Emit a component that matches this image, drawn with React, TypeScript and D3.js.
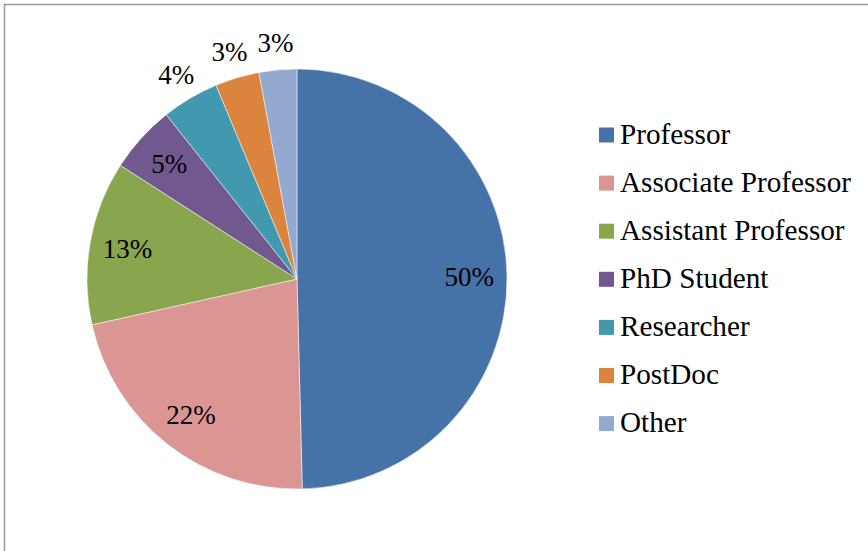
import React from "react";
import * as d3 from "d3";

const categories = ["Professor", "Associate Professor", "Assistant Professor", "PhD Student", "Researcher", "PostDoc", "Other"];
const values = [49.6, 21.9, 12.6, 5.2, 4.4, 3.4, 2.9];
const colors = ["#4572A7", "#DB9694", "#89A54E", "#71588F", "#4198AF", "#DB843D", "#93A9CF"];
const outsideLabel = [false, false, false, false, true, true, true];

const W = 868;
const H = 551;
const cx = 297;
const cy = 279;
const R = 210;
const font = "'Liberation Serif', 'Times New Roman', Times, serif";

export default function App() {
  const pie = d3.pie<number>().sort(null).value((d) => d)(values);
  const arc = d3.arc<d3.PieArcDatum<number>>().innerRadius(0).outerRadius(R);
  const inLabel = d3.arc<d3.PieArcDatum<number>>().innerRadius(R * 0.82).outerRadius(R * 0.82);
  const outLabel = d3.arc<d3.PieArcDatum<number>>().innerRadius(R * 1.13).outerRadius(R * 1.13);
  return (
    <div style={{ position: "absolute", left: 0, top: 0 }}>
      <svg width={W} height={H} style={{ display: "block", fontFamily: font }}>
        <rect x={0} y={0} width={W} height={H} fill="#fff" />
        <rect x={4.5} y={4.5} width={W + 10} height={H + 10} fill="none" stroke="#9a9a9a" strokeWidth={1.5} />
        <g transform={`translate(${cx},${cy})`}>
          {pie.map((p, i) => (
            <path key={i} d={arc(p) || ""} fill={colors[i]} stroke="#fff" strokeWidth={0.5} />
          ))}
          {pie.map((p, i) => {
            const [x, y] = (outsideLabel[i] ? outLabel : inLabel).centroid(p);
            return (
              <text key={i} x={x} y={y} dy="0.34em" textAnchor="middle" style={{ fontFamily: font, fontSize: 27 }} fill="#000">
                {Math.round(p.data)}%
              </text>
            );
          })}
        </g>
        <g>
          {categories.map((c, i) => (
            <g key={c} transform={`translate(599,${127.5 + i * 48.1})`}>
              <rect x={0} y={0} width={15} height={15} fill={colors[i]} />
              <text x={21} y={16} style={{ fontFamily: font, fontSize: 29.2 }} fill="#000">
                {c}
              </text>
            </g>
          ))}
        </g>
      </svg>
    </div>
  );
}
